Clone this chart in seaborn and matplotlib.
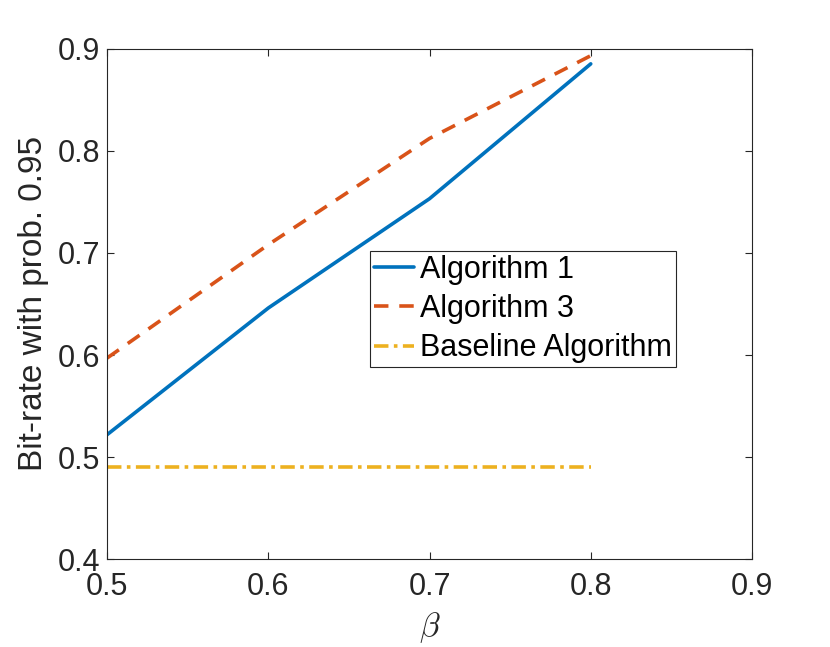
import numpy as np
import pandas as pd
import matplotlib
matplotlib.use("Agg")
import matplotlib.pyplot as plt
import seaborn as sns

beta = [0.5, 0.6, 0.7, 0.8]
alg1 = [0.522, 0.646, 0.753, 0.885]
alg3 = [0.597, 0.708, 0.812, 0.893]
baseline = [0.490, 0.490, 0.490, 0.490]
labels = ["Algorithm 1", "Algorithm 3", "Baseline Algorithm"]
colors = ["#0072BD", "#D95319", "#EDB120"]
xticks = [0.5, 0.6, 0.7, 0.8, 0.9]
yticks = [0.4, 0.5, 0.6, 0.7, 0.8, 0.9]

sns.set_theme(style="white")
plt.rcParams['font.family'] = ['Liberation Sans', 'DejaVu Sans']
plt.rcParams['mathtext.fontset'] = 'cm'

df = pd.DataFrame({
    "beta": beta * 3,
    "value": alg1 + alg3 + baseline,
    "series": [labels[0]] * 4 + [labels[1]] * 4 + [labels[2]] * 4,
})

fig = plt.figure(figsize=(8.3, 6.47), dpi=100)
ax = fig.add_axes([0.129, 0.1355, 0.777, 0.7895])

sns.lineplot(data=df, x="beta", y="value", hue="series", style="series",
             palette=dict(zip(labels, colors)),
             dashes={labels[0]: "", labels[1]: (4, 3), labels[2]: (4, 1.5, 1, 1.5)},
             linewidth=2.6, ax=ax, legend=True)

ax.set_xlim(0.5, 0.9)
ax.set_ylim(0.4, 0.9)
ax.set_xticks(xticks)
ax.set_yticks(yticks)
ax.set_xticklabels([f"{v:g}" for v in xticks])
ax.set_yticklabels([f"{v:g}" for v in yticks])
ax.tick_params(axis='both', which='both', direction='in', length=5, width=0.8,
               labelsize=22, colors='#262626', top=True, right=True, bottom=True, left=True, pad=5)
ax.tick_params(axis='x', pad=9)
for s in ax.spines.values():
    s.set_visible(True)
    s.set_color('#262626')
    s.set_linewidth(0.8)
ax.set_xlabel(r"$\beta$", fontsize=24, color='#262626', labelpad=6)
ax.set_ylabel("Bit-rate with prob. 0.95", fontsize=24, color='#262626', labelpad=6)

leg = ax.legend(loc='upper left', bbox_to_anchor=(0.408, 0.603), fontsize=22,
                frameon=True, fancybox=False, framealpha=1, edgecolor='#262626',
                handlelength=1.3, handletextpad=0.22, borderpad=0.12, labelspacing=0.3,
                borderaxespad=0)
leg.get_frame().set_linewidth(0.8)
for t in leg.get_texts():
    t.set_color('black')

fig.savefig("out.png", dpi=100)
